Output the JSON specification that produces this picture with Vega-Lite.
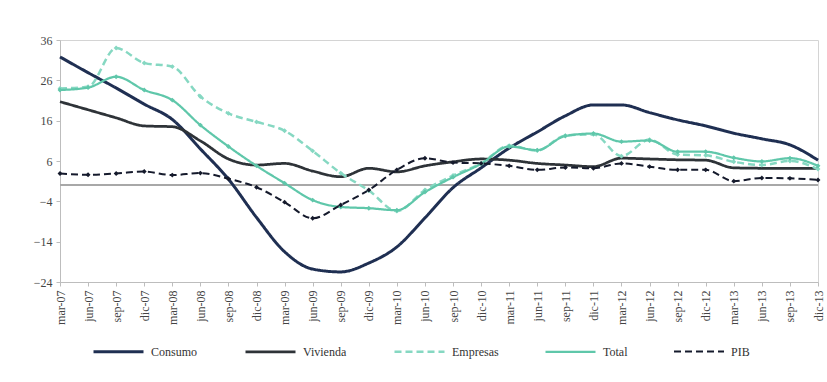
{
  "$schema": "https://vega.github.io/schema/vega-lite/v6.json",
  "width": 758,
  "height": 242,
  "autosize": {"type": "none"},
  "padding": {"left": 60, "top": 40, "right": 9, "bottom": 100},
  "background": "white",
  "config": {
    "font": "Liberation Serif",
    "view": {"stroke": "#d4d4d4", "strokeWidth": 1},
    "axis": {
      "labelFont": "Liberation Serif",
      "labelColor": "#444444",
      "domainColor": "#bdbdbd",
      "tickColor": "#bdbdbd",
      "grid": false
    },
    "legend": {
      "labelFont": "Liberation Serif",
      "labelFontSize": 12,
      "labelColor": "#333333"
    }
  },
  "data": {
    "values": [
      {"t": "mar-07", "Consumo": 31.8, "Vivienda": 20.7, "Empresas": 24.0, "Total": 23.6, "PIB": 2.9},
      {"t": "jun-07", "Consumo": 27.9, "Vivienda": 18.7, "Empresas": 24.4, "Total": 24.2, "PIB": 2.6},
      {"t": "sep-07", "Consumo": 24.1, "Vivienda": 16.7, "Empresas": 34.0, "Total": 26.9, "PIB": 2.9},
      {"t": "dic-07", "Consumo": 20.1, "Vivienda": 14.7, "Empresas": 30.3, "Total": 23.6, "PIB": 3.4},
      {"t": "mar-08", "Consumo": 16.3, "Vivienda": 14.5, "Empresas": 29.4, "Total": 21.1, "PIB": 2.5},
      {"t": "jun-08", "Consumo": 9.0, "Vivienda": 11.0, "Empresas": 22.0, "Total": 14.9, "PIB": 3.0},
      {"t": "sep-08", "Consumo": 1.5, "Vivienda": 6.5, "Empresas": 17.8, "Total": 9.6, "PIB": 1.6},
      {"t": "dic-08", "Consumo": -8.0, "Vivienda": 5.0, "Empresas": 15.7, "Total": 4.8, "PIB": -0.5},
      {"t": "mar-09", "Consumo": -16.5, "Vivienda": 5.4, "Empresas": 13.5, "Total": 0.5, "PIB": -4.2},
      {"t": "jun-09", "Consumo": -20.8, "Vivienda": 3.5, "Empresas": 8.5, "Total": -3.7, "PIB": -8.2},
      {"t": "sep-09", "Consumo": -21.5, "Vivienda": 2.1, "Empresas": 3.0, "Total": -5.4, "PIB": -4.9},
      {"t": "dic-09", "Consumo": -19.3, "Vivienda": 4.2, "Empresas": -1.3, "Total": -5.7, "PIB": -1.2},
      {"t": "mar-10", "Consumo": -15.3, "Vivienda": 3.3, "Empresas": -6.4, "Total": -6.2, "PIB": 3.8},
      {"t": "jun-10", "Consumo": -8.1, "Vivienda": 4.8, "Empresas": -1.2, "Total": -1.7, "PIB": 6.7},
      {"t": "sep-10", "Consumo": -0.6, "Vivienda": 5.8, "Empresas": 2.4, "Total": 2.0, "PIB": 5.6},
      {"t": "dic-10", "Consumo": 4.3, "Vivienda": 6.5, "Empresas": 5.4, "Total": 5.3, "PIB": 5.4},
      {"t": "mar-11", "Consumo": 9.2, "Vivienda": 6.2, "Empresas": 9.8, "Total": 9.6, "PIB": 4.8},
      {"t": "jun-11", "Consumo": 13.2, "Vivienda": 5.4, "Empresas": 8.6, "Total": 8.7, "PIB": 3.8},
      {"t": "sep-11", "Consumo": 17.2, "Vivienda": 5.0, "Empresas": 12.3, "Total": 12.2, "PIB": 4.4},
      {"t": "dic-11", "Consumo": 19.9, "Vivienda": 4.6, "Empresas": 12.6, "Total": 12.8, "PIB": 4.2},
      {"t": "mar-12", "Consumo": 19.9, "Vivienda": 6.7, "Empresas": 7.2, "Total": 10.8, "PIB": 5.4},
      {"t": "jun-12", "Consumo": 18.0, "Vivienda": 6.5, "Empresas": 11.3, "Total": 11.1, "PIB": 4.6},
      {"t": "sep-12", "Consumo": 16.2, "Vivienda": 6.3, "Empresas": 7.6, "Total": 8.3, "PIB": 3.8},
      {"t": "dic-12", "Consumo": 14.7, "Vivienda": 6.2, "Empresas": 7.4, "Total": 8.3, "PIB": 3.8},
      {"t": "mar-13", "Consumo": 12.9, "Vivienda": 4.3, "Empresas": 5.8, "Total": 6.8, "PIB": 1.0},
      {"t": "jun-13", "Consumo": 11.5, "Vivienda": 4.2, "Empresas": 5.0, "Total": 5.9, "PIB": 1.8},
      {"t": "sep-13", "Consumo": 10.0, "Vivienda": 4.2, "Empresas": 6.0, "Total": 6.7, "PIB": 1.7},
      {"t": "dic-13", "Consumo": 6.2, "Vivienda": 4.2, "Empresas": 4.0, "Total": 4.8, "PIB": 1.3}
    ]
  },
  "transform": [
    {"fold": ["Consumo", "Vivienda", "Empresas", "Total", "PIB"], "as": ["serie", "valor"]}
  ],
  "encoding": {
    "x": {
      "field": "t",
      "type": "ordinal",
      "sort": null,
      "scale": {"type": "point", "padding": 0},
      "axis": {"title": null, "labelAngle": 270, "labelFontSize": 12, "labelPadding": 4, "tickSize": 4, "labelAlign": "right", "labelBaseline": "middle"}
    },
    "y": {
      "field": "valor",
      "type": "quantitative",
      "scale": {"domain": [-24, 36], "nice": false, "zero": false},
      "axis": {"title": null, "values": [-24, -14, -4, 6, 16, 26, 36], "labelFontSize": 12, "tickSize": 4, "labelPadding": 4}
    }
  },
  "layer": [
    {
      "mark": {"type": "rule", "color": "#a8a8a8", "strokeWidth": 1},
      "encoding": {"y": {"datum": 0}, "x": null}
    },
    {
      "mark": {"type": "line", "interpolate": "monotone"},
      "encoding": {
        "color": {
          "field": "serie",
          "type": "nominal",
          "scale": {
            "domain": ["Consumo", "Vivienda", "Empresas", "Total", "PIB"],
            "range": ["#1f2f52", "#2e3338", "#86d8c2", "#5fc7aa", "#151a2c"]
          },
          "legend": {
            "title": null,
            "orient": "none",
            "direction": "horizontal",
            "legendX": 32,
            "legendY": 285,
            "symbolType": "stroke",
            "symbolSize": 2500,
            "symbolStrokeWidth": 3,
            "columnPadding": 42,
            "labelOffset": 6
          }
        },
        "strokeDash": {
          "field": "serie",
          "type": "nominal",
          "scale": {
            "domain": ["Consumo", "Vivienda", "Empresas", "Total", "PIB"],
            "range": [[1, 0], [1, 0], [7, 4], [1, 0], [7, 4]]
          },
          "legend": {
            "title": null,
            "orient": "none",
            "direction": "horizontal",
            "legendX": 32,
            "legendY": 285,
            "symbolType": "stroke",
            "symbolSize": 2500,
            "symbolStrokeWidth": 3,
            "columnPadding": 42,
            "labelOffset": 6
          }
        },
        "strokeWidth": {
          "field": "serie",
          "type": "nominal",
          "scale": {
            "domain": ["Consumo", "Vivienda", "Empresas", "Total", "PIB"],
            "range": [3, 2, 2.2, 2.8, 2.8]
          },
          "legend": null
        }
      }
    },
    {
      "transform": [{"filter": {"field": "serie", "oneOf": ["Empresas", "Total", "PIB"]}}],
      "mark": {"type": "point", "filled": true, "size": 24, "opacity": 1, "shape": "diamond"},
      "encoding": {
        "fill": {
          "field": "serie",
          "type": "nominal",
          "scale": {
            "domain": ["Empresas", "Total", "PIB"],
            "range": ["#86d8c2", "#5fc7aa", "#151a2c"]
          },
          "legend": null
        }
      }
    }
  ]
}
